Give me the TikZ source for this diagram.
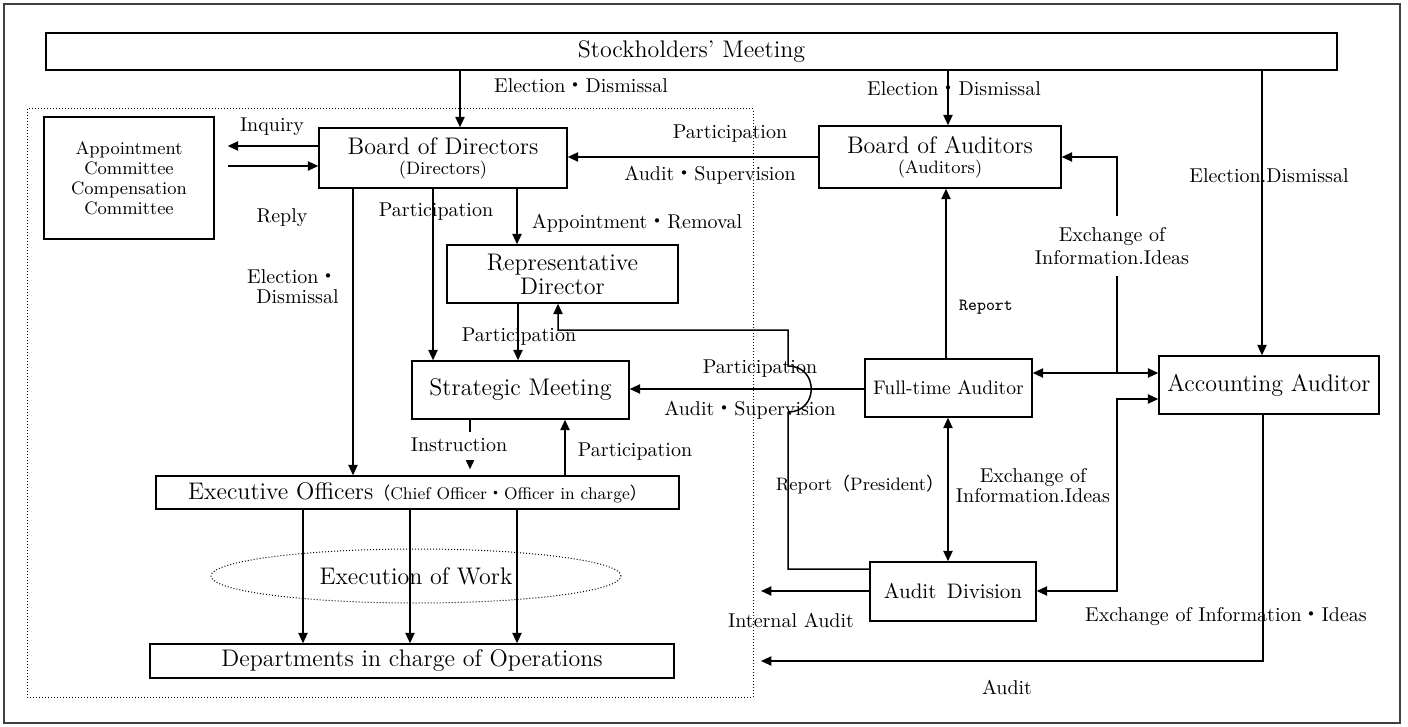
\documentclass[tikz,border=0pt]{standalone}
\usepackage{fontspec}
\newfontfamily\cjk{Noto Sans CJK JP}
\usetikzlibrary{arrows.meta,shapes.geometric}
% full-width middle dot and brackets
\newcommand{\kdot}{{\cjk ・}}
\newcommand{\fwl}{{\cjk （}}
\newcommand{\fwr}{{\cjk ）}}

\tikzset{
  box/.style={draw, line width=0.7pt, inner sep=0pt, align=center},
  big/.style={font=\fontsize{12}{12}\selectfont},
  lbl/.style={font=\fontsize{10}{11}\selectfont, inner sep=0pt, text height=7pt, text depth=2pt},
  two/.style={font=\fontsize{10}{10}\selectfont, inner sep=0pt, align=center},
  link/.style={line width=0.75pt},
  arr/.style={link, -{Triangle[length=5.2pt,width=4.6pt]}},
  arr2/.style={link, {Triangle[length=5.2pt,width=4.6pt]}-{Triangle[length=5.2pt,width=4.6pt]}},
}

\begin{document}
\begin{tikzpicture}[x=0.5pt, y=-0.5pt]
\useasboundingbox (0,0) rectangle (1408,727);

% frames
\draw[line width=0.7pt, black!75] (4,4) rectangle (1400,723);
\draw[densely dotted, line width=0.5pt] (27,109) rectangle (753,697);

% boxes
\node[box, big, minimum width=645.5pt, minimum height=18.5pt] (SM) at (691.5,51.5) {Stockholders' Meeting};
\node[box, font=\fontsize{9}{10}\selectfont, minimum width=85pt, minimum height=61pt] (comm) at (129,178)
  {Appointment\\Committee\\Compensation\\Committee};
\node[box, font=\fontsize{12}{10}\selectfont, minimum width=124pt, minimum height=30pt] (bod) at (443,158)
  {Board of Directors\\{\fontsize{9}{10}\selectfont(Directors)}};
\node[box, font=\fontsize{12}{10}\selectfont, minimum width=121pt, minimum height=31pt] (boa) at (940,157)
  {Board of Auditors\\{\fontsize{9}{10}\selectfont(Auditors)}};
\node[box, big, minimum width=115.5pt, minimum height=29pt] (rep) at (562.5,274)
  {Representative\\Director};
\node[box, big, minimum width=108.5pt, minimum height=29pt] (strat) at (520.5,390) {Strategic Meeting};
\node[box, font=\fontsize{9.8}{10}\selectfont, minimum width=83.5pt, minimum height=29pt] (fta) at (948.5,388) {Full-time Auditor};
\node[box, big, minimum width=110pt, minimum height=29pt] (acc) at (1269,385) {Accounting Auditor};
\node[box, big, minimum width=261.5pt, minimum height=16.5pt] (exec) at (417.5,492.5)
  {Executive Officers{\fontsize{8.5}{10}\selectfont\fwl Chief Officer\kdot{}Officer in charge\fwr}};
\node[box, big, minimum width=262pt, minimum height=17pt] (dept) at (412,661) {Departments in charge of Operations};
\node[box, font=\fontsize{10.5}{11}\selectfont, minimum width=83pt, minimum height=29.5pt] (adiv) at (953,591.5) {Audit\enspace Division};
\node[ellipse, draw, densely dotted, line width=0.5pt, big, inner sep=0pt, minimum width=205pt, minimum height=27pt] (work) at (416,576) {Execution of Work};

% free ends
\coordinate (iaend) at (761,591);
\coordinate (auend) at (761,661);
\coordinate (xtop) at (1117,373);

% connectors
\draw[arr] (SM.south -| 460,0) -- (bod.north -| 460,0);
\draw[arr] (SM.south -| 948,0) -- (boa.north -| 948,0);
\draw[arr] (SM.south -| 1262,0) -- (acc.north -| 1262,0);
\draw[arr, shorten >=6.5pt] (bod.west |- 0,146) -- (comm.east |- 0,146);
\draw[arr, shorten <=6.5pt] (comm.east |- 0,166) -- (bod.west |- 0,166);
\draw[arr] (bod.south -| 353,0) -- (exec.north -| 353,0);
\draw[arr] (bod.south -| 433,0) -- (strat.north -| 433,0);
\draw[arr] (bod.south -| 517,0) -- (rep.north -| 517,0);
\draw[arr] (boa.west |- 0,157) -- (bod.east |- 0,157);
\draw[arr] (rep.south -| 518,0) -- (strat.north -| 518,0);
\draw[arr] (fta.west |- 0,389) -- (strat.east |- 0,389);
\draw[arr] (adiv.west |- 0,569) -- (788,569) -- (788,412)
  .. controls (819,412) and (819,366) .. (788,366) -- (788,330) -| (rep.south -| 558,0);
\draw[arr] (fta.north -| 946,0) -- (boa.south -| 946,0);
\draw[arr2] (fta.east |- 0,373) -- (acc.west |- 0,373);
\draw[arr] (xtop) -- (1117,157) -- (boa.east |- 0,157);
\draw[arr2] (fta.south -| 948,0) -- (adiv.north -| 948,0);
\draw[arr2] (acc.west |- 0,399) -- (1117,399) -- (1117,591) -- (adiv.east |- 0,591);
\draw[arr] (adiv.west |- 0,591) -- (iaend);
\draw[arr] (acc.south -| 1263,0) |- (auend);
\draw[arr] (exec.north -| 565,0) -- (strat.south -| 565,0);
\draw[arr, shorten >=3pt] (strat.south -| 470,0) -- (exec.north -| 470,0);
\foreach \cx in {303,410,517}
  \draw[arr] (exec.south -| \cx,0) -- (dept.north -| \cx,0);

% labels
\node[lbl] (l1) at (581,88) {Election\kdot{}Dismissal};
\node[lbl] (l2) at (954,91) {Election\kdot{}Dismissal};
\node[lbl] (l3) at (1269,178) {Election.Dismissal};
\node[lbl] (l4) at (272,127) {Inquiry};
\node[lbl] (l5) at (282,218) {Reply};
\node[two, align=right, anchor=east] (l6) at (339,287) {Election\kdot\\Dismissal};
\node[lbl] (l7) at (436,212) {Participation};
\node[lbl] (l8) at (637,224) {Appointment\kdot{}Removal};
\node[lbl] (l9) at (730,134) {Participation};
\node[lbl] (l10) at (710,176) {Audit\kdot{}Supervision};
\node[lbl] (l11) at (519,337) {Participation};
\node[lbl] (l12) at (760,368) {Participation};
\node[lbl] (l13) at (750,410) {Audit\kdot{}Supervision};
\node[lbl, fill=white, inner ysep=2.5pt, inner xsep=1pt] (l14) at (459,446) {Instruction};
\node[lbl] (l15) at (635,451) {Participation};
\node[lbl, font=\fontsize{9}{10}\selectfont] (l16) at (860,485) {Report\fwl President\fwr};
\node[lbl, font=\ttfamily\fontsize{8.5}{10}\selectfont] (l17) at (986,306) {Report};
\node[two, font=\fontsize{10}{11.5}\selectfont, fill=white, inner ysep=5.5pt, inner xsep=1pt] (l18) at (1112,246)
  {Exchange of\\Information.Ideas};
\node[two] (l19) at (1033,486) {Exchange of\\Information.Ideas};
\node[lbl] (l20) at (1226,616) {Exchange of Information\kdot{}Ideas};
\node[lbl] (l21) at (791,622) {Internal Audit};
\node[lbl] (l22) at (1007,689) {Audit};
\end{tikzpicture}
\end{document}
